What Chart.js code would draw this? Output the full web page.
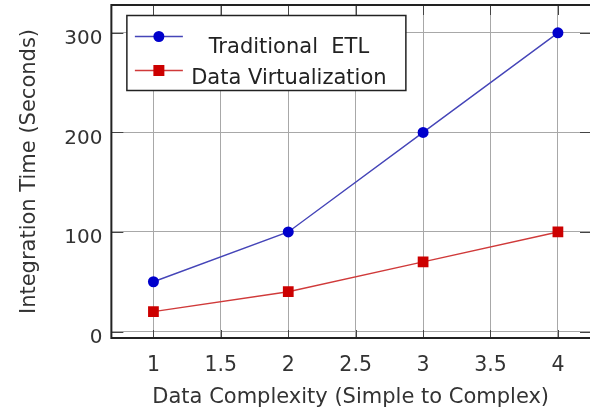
<!DOCTYPE html>
<html>
<head>
<meta charset="utf-8">
<script src="https://cdn.jsdelivr.net/npm/chart.js@4/dist/chart.umd.min.js"></script>
<style>
  html, body { margin: 0; padding: 0; background: #ffffff; }
  #wrap { width: 590px; height: 412px; position: relative; }
</style>
</head>
<body>
<div id="wrap"><canvas id="c" width="590" height="412"></canvas></div>
<script>
const complexity = [1, 2, 3, 4];
const traditionalETL = [50, 100, 200, 300];
const dataVirtualization = [20, 40, 70, 100];
const seriesLabels = ['Traditional  ETL', 'Data Virtualization'];
const xTickValues = [1, 1.5, 2, 2.5, 3, 3.5, 4];
const yTickValues = [0, 100, 200, 300];
const xTitle = 'Data Complexity (Simple to Complex)';
const yTitle = 'Integration Time (Seconds)';

const FONT = '"DejaVu Sans", sans-serif';

const frameAndLegend = {
  id: 'frameAndLegend',
  afterDatasetsDraw(chart) {
    const ctx = chart.ctx;
    const a = chart.chartArea;
    const xs = chart.scales.x, ys = chart.scales.y;
    ctx.save();
    // inward tick marks
    ctx.strokeStyle = '#444';
    ctx.lineWidth = 1;
    yTickValues.forEach(v => {
      const y = Math.round(ys.getPixelForValue(v)) + 0.5;
      ctx.beginPath(); ctx.moveTo(a.left, y); ctx.lineTo(a.left + 12, y); ctx.stroke();
      ctx.beginPath(); ctx.moveTo(a.right, y); ctx.lineTo(a.right - 10, y); ctx.stroke();
    });
    xTickValues.forEach(v => {
      const x = Math.round(xs.getPixelForValue(v)) + 0.5;
      ctx.beginPath(); ctx.moveTo(x, a.top); ctx.lineTo(x, a.top + 10); ctx.stroke();
      ctx.beginPath(); ctx.moveTo(x, a.bottom); ctx.lineTo(x, a.bottom - 8); ctx.stroke();
    });
    // frame
    ctx.strokeStyle = '#222';
    ctx.lineWidth = 2;
    ctx.beginPath();
    ctx.moveTo(a.right + 2, a.top);
    ctx.lineTo(a.left, a.top);
    ctx.lineTo(a.left, a.bottom);
    ctx.lineTo(a.right + 2, a.bottom);
    ctx.stroke();

    // legend box
    const bx = a.left + 15.5, by = a.top + 10.5, bw = 279, bh = 75;
    ctx.fillStyle = '#ffffff';
    ctx.fillRect(bx, by, bw, bh);
    ctx.strokeStyle = '#222';
    ctx.lineWidth = 1.5;
    ctx.strokeRect(bx, by, bw, bh);
    const markerRows = [by + 21, by + 55];
    const textBase = [by + 37, by + 68];
    chart.data.datasets.forEach((ds, i) => {
      const y = markerRows[i];
      ctx.strokeStyle = ds.borderColor;
      ctx.lineWidth = 1.4;
      ctx.beginPath(); ctx.moveTo(bx + 8, y); ctx.lineTo(bx + 56, y); ctx.stroke();
      ctx.fillStyle = ds.pointBackgroundColor;
      if (ds.pointStyle === 'circle') {
        ctx.beginPath(); ctx.arc(bx + 32, y, 5.5, 0, Math.PI * 2); ctx.fill();
      } else {
        ctx.fillRect(bx + 26.5, y - 5.5, 11, 11);
      }
      ctx.fillStyle = '#222';
      ctx.font = '21px ' + FONT;
      ctx.textAlign = 'center';
      ctx.textBaseline = 'alphabetic';
      ctx.fillText(ds.label, bx + 162, textBase[i]);
    });
    ctx.restore();
  }
};

new Chart(document.getElementById('c'), {
  type: 'line',
  data: {
    datasets: [
      {
        label: seriesLabels[0],
        data: complexity.map((x, i) => ({ x, y: traditionalETL[i] })),
        borderColor: '#4545b8',
        backgroundColor: '#0000cc',
        pointBackgroundColor: '#0000cc',
        pointBorderColor: '#0000cc',
        pointStyle: 'circle',
        pointRadius: 5.5,
        pointBorderWidth: 0,
        borderWidth: 1.4,
        tension: 0
      },
      {
        label: seriesLabels[1],
        data: complexity.map((x, i) => ({ x, y: dataVirtualization[i] })),
        borderColor: '#d03a3a',
        backgroundColor: '#cc0000',
        pointBackgroundColor: '#cc0000',
        pointBorderColor: '#cc0000',
        pointStyle: 'rect',
        pointRadius: 7.6,
        pointBorderWidth: 0,
        borderWidth: 1.4,
        tension: 0
      }
    ]
  },
  options: {
    responsive: false,
    animation: false,
    layout: { autoPadding: false, padding: { left: 13, top: 5, right: 0, bottom: 4 } },
    plugins: { legend: { display: false }, tooltip: { enabled: false } },
    scales: {
      x: {
        type: 'linear',
        min: 0.688,
        max: 4.238,
        afterBuildTicks: s => { s.ticks = xTickValues.map(v => ({ value: v })); },
        afterFit: s => { s.paddingLeft = 0; s.paddingRight = 0; s.height = 70; },
        ticks: {
          color: '#333',
          font: { family: FONT, size: 20.5 },
          padding: 15.5,
          maxRotation: 0,
          autoSkip: false,
          callback: v => String(v)
        },
        grid: { color: '#a8a8a8', lineWidth: 1, drawTicks: false },
        border: { display: false },
        title: { display: true, text: xTitle, color: '#333', font: { family: FONT, size: 21, lineHeight: 1.0 }, padding: { top: 1, bottom: 0 } }
      },
      y: {
        type: 'linear',
        min: -6.5,
        max: 328,
        afterBuildTicks: s => { s.ticks = yTickValues.map(v => ({ value: v })); },
        afterFit: s => { s.paddingTop = 0; s.paddingBottom = 0; },
        ticks: {
          color: '#333',
          font: { family: FONT, size: 20 },
          padding: 9,
          labelOffset: 6
        },
        grid: { color: '#a8a8a8', lineWidth: 1, drawTicks: false },
        border: { display: false },
        title: { display: true, text: yTitle, color: '#333', font: { family: FONT, size: 21 }, padding: { top: 4, bottom: 13 } }
      }
    }
  },
  plugins: [frameAndLegend]
});
</script>
</body>
</html>
